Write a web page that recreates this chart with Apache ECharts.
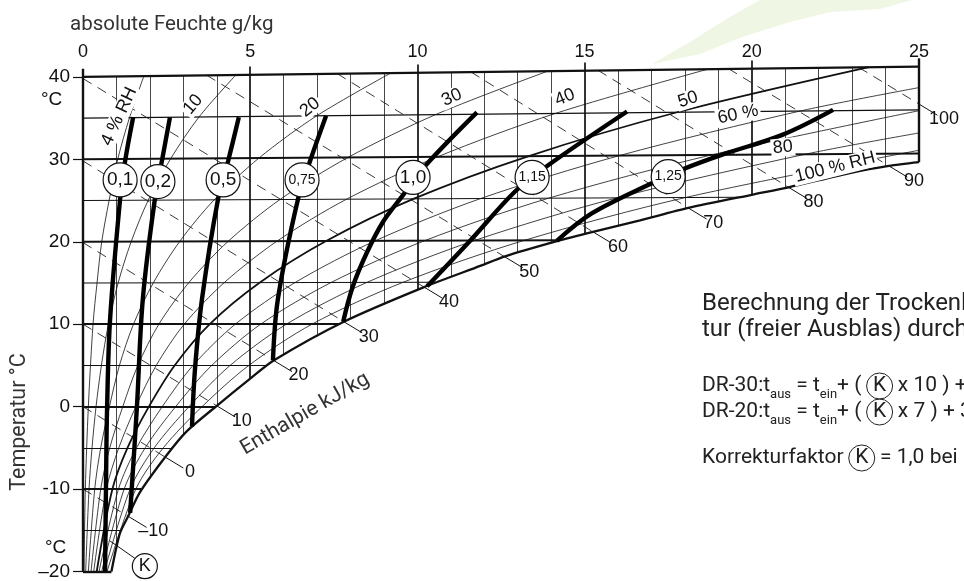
<!DOCTYPE html>
<html><head><meta charset="utf-8">
<script src="https://cdn.jsdelivr.net/npm/echarts@6/dist/echarts.min.js"></script>
<style>html,body{margin:0;padding:0;background:#fff;overflow:hidden}#c{width:964px;height:581px}</style>
</head><body><div id="c"></div>
<script>
// ---------------- data ----------------
const xTickValues = [0, 5, 10, 15, 20, 25];           // absolute Feuchte g/kg
const yTickValues = [-20, -10, 0, 10, 20, 30, 40];     // Temperatur °C
const yTickText = ['–20', '-10', '0', '10', '20', '30', '40'];

// saturation curve (100 % RH): [g/kg, °C]
const saturation = [[0.85,-20],[1.1,-15.4],[1.35,-13.3],[1.7,-10.4],[2.5,-5.9],[3.1,-3.0],[4.0,0.1],[5.0,3.4],[5.7,5.6],[7.8,10.3],[10.2,14.5],[11.9,17.1],[12.6,18.2],[14.2,20.1],[15.25,21.2],[16.66,22.6],[18.1,24.1],[20.0,25.7],[21.1,26.6],[23.0,28.4],[24.1,29.2],[25,29.65]];

// isotherms (°C) and their rise in °C over 25 g/kg
const isotherms    = [-20,-15,-10,-5,0,5,10,15,20,25,30,35,40];
const isothermRise = [0,0,0,0,0,0.05,0.1,0.2,0.3,0.5,0.7,1.0,1.25];

// enthalpy lines kJ/kg: start and end (on saturation / border)
const enthalpy = [-10,0,10,20,30,40,50,60,70,80,90,100];
const enthalpyStart = [[0,-10],[0,0],[0,10],[0,19.9],[0,29.8],[0,39.8],[3.7,40.2],[7.6,40.4],[11.6,40.6],[15.4,40.8],[19.3,41.0],[23.2,41.15]];
const enthalpyEnd   = [[1.35,-13.3],[2.45,-6.1],[4.0,0.1],[5.7,5.6],[7.8,10.3],[10.2,14.5],[12.6,18.2],[15.25,21.2],[18.1,24.1],[21.1,26.6],[24.1,29.2],[25,36.7]];

// relative humidity curves
const rh04 = [[0.03,-20],[0.07,-10],[0.16,0],[0.30,10],[0.42,15],[0.56,20],[0.78,25],[1.04,30.03],[1.39,35.05],[1.82,40.09]];
const rh10 = [[0.08,-20],[0.18,-10],[0.27,-5],[0.39,0],[0.55,5],[0.76,10],[1.05,15],[1.44,20],[1.95,25.04],[2.62,30.07],[3.47,35.14],[4.57,40.23]];
const rh20 = [[0.16,-20],[0.35,-10],[0.53,-5],[0.79,0],[1.09,5],[1.51,10],[2.10,15],[2.89,20.03],[3.92,25.08],[5.26,30.15],[6.99,35.28],[9.20,40.46]];
const rh30 = [[0.24,-20],[0.53,-10],[0.80,-5],[1.19,0],[1.64,5],[2.27,10.01],[3.16,15.02],[4.34,20.05],[5.89,25.12],[7.92,30.22],[10.54,35.42],[13.90,40.70]];
const rh40 = [[0.32,-20],[0.70,-10],[1.07,-5],[1.58,0],[2.19,5],[3.03,10.01],[4.22,15.03],[5.80,20.07],[7.88,25.16],[10.60,30.30],[14.13,35.57],[18.68,40.93]];
const rh50 = [[0.41,-20],[0.88,-10],[1.33,-5],[1.97,0],[2.74,5],[3.79,10.02],[5.28,15.04],[7.27,20.09],[9.88,25.20],[13.31,30.37],[17.77,35.71],[23.50,41.18]];
const rh60 = [[0.48,-20],[1.06,-10],[1.60,-5],[2.37,0],[3.29,5],[4.56,10.02],[6.34,15.05],[8.73,20.1],[11.89,25.24],[16.04,30.45],[21.45,35.86],[25,38.7]];
const rh70 = [[0.56,-20],[1.23,-10],[1.86,-5],[2.77,0],[3.85,5],[5.32,10.02],[7.42,15.06],[10.21,20.12],[13.92,25.28],[18.79,30.53],[25,35.9]];
const rh80 = [[0.64,-20],[1.41,-10],[2.13,-5],[3.17,0],[4.40,5],[6.09,10.02],[8.49,15.07],[11.70,20.14],[15.96,25.32],[21.58,30.60],[25,33.2]];
const rh90 = [[0.72,-20],[1.58,-10],[2.40,-5],[3.56,0],[4.96,5],[6.86,10.03],[9.57,15.08],[13.19,20.16],[18.01,25.36],[25,31.1]];
const rhCurves = [rh04, rh10, rh20, rh30, rh40, rh50, rh60, rh70, rh80, rh90];
const rhNames  = ['4 %','10 %','20 %','30 %','40 %','50 %','60 %','70 %','80 %','90 %'];
const rhLabelText = ['4 % RH','10','20','30','40','50','60 %','80','100 % RH'];

// correction factor K curves
const kLabels = ['0,1','0,2','0,5','0,75','1,0','1,15','1,25'];
const k01  = [[1.50,35.1],[1.26,29.8],[1.11,25.2],[0.81,10.6],[0.72,-0.2],[0.69,-8.7],[0.66,-20]];
const k02  = [[2.60,35.1],[2.36,29.8],[2.15,25.2],[1.79,13.1],[1.61,-0.2],[1.41,-12.9]];
const k05  = [[4.66,35.1],[4.34,29.8],[4.04,25.2],[3.56,13.1],[3.35,4.6],[3.26,-2.4]];
const k075 = [[7.27,35.3],[6.79,29.8],[6.43,25.2],[5.83,13.1],[5.68,5.6]];
const k10  = [[11.78,35.7],[10.23,29.2],[9.54,25.5],[8.97,22.4],[8.49,18.7],[8.07,14.6],[7.78,10.3]];
const k115 = [[16.27,35.8],[13.88,29.2],[12.92,26.1],[11.57,20.1],[10.29,14.6]];
const k125 = [[22.43,36.0],[20.93,33.0],[19.14,30.6],[17.94,28.8],[16.96,27.0],[15.2,23.4],[14.17,20.1]];
const kCurves = [k01, k02, k05, k075, k10, k115, k125];

// ---------------- layout (positions / styles) ----------------
const kCirclePos = [[1.11,27.5],[2.24,27.3],[4.19,27.5],[6.55,27.5],[9.87,27.8],[13.43,27.8],[17.5,27.9]];
const rhLabelPos = [[1.08,35.2],[3.29,36.65],[6.79,36.3],[11.03,37.5],[14.41,37.5],[18.09,37.25],[19.59,35.44],[20.93,31.45],[22.49,29.03]];
const rhLabelRot = [65,50,38,25,22,18,12,5,14];
const tickExt = 1.0;
const INK = '#111';
const CLEAR = 'rgba(0,0,0,0)';

// ---------------- helpers ----------------
const topRise = isothermRise[isothermRise.length-1];
const topY = x => 40 + topRise * x / 25;
function satYAt(x){
  for (let i=0;i<saturation.length-1;i++){
    const a=saturation[i], b=saturation[i+1];
    if (x>=a[0] && x<=b[0]) return a[1]+(b[1]-a[1])*(x-a[0])/(b[0]-a[0]);
  }
  return x<saturation[0][0]?saturation[0][1]:saturation[saturation.length-1][1];
}
function isoEnd(T, rise){
  const f = x => T + rise*x/25;
  for (let i=0;i<saturation.length-1;i++){
    const a=saturation[i], b=saturation[i+1];
    const d0=a[1]-f(a[0]), d1=b[1]-f(b[0]);
    if (d0<=0 && d1>=0){ const t = d1===d0?0:-d0/(d1-d0); return a[0]+t*(b[0]-a[0]); }
  }
  return 25;
}
function segs(name, list, style, z){
  return {type:'lines', name, coordinateSystem:'cartesian2d', polyline:false, clip:false, silent:true, z,
          data: list.map(c=>({coords:c})), lineStyle: Object.assign({opacity:1, curveness:0}, style)};
}

const series = [];
// vertical grid lines
const vThin=[], vThick=[];
for (let gx=1; gx<=24; gx++){
  const major = gx%5===0;
  (major?vThick:vThin).push([[gx, satYAt(gx)], [gx, topY(gx)+(major?tickExt:0)]]);
}
series.push(segs('gridV', vThin, {color:'#333', width:0.9}, 1));
series.push(segs('gridV5', vThick, {color:INK, width:1.7}, 1));
// isotherms
const isoThin=[], isoThick=[];
isotherms.forEach((T,i)=>{
  if (T===-20 || T===40) return;
  const r=isothermRise[i], xe=isoEnd(T,r);
  (T%10===0?isoThick:isoThin).push([[0,T],[xe,T+r*xe/25]]);
});
series.push(segs('iso', isoThin, {color:INK, width:1.1}, 2));
series.push(segs('iso10', isoThick, {color:INK, width:2}, 2));
// borders
series.push(segs('border', [
  [[0,-20],[0,40+tickExt]],
  [[25,satYAt(25)],[25,topY(25)+tickExt]],
  [[0,40],[25,topY(25)]],
  [[0,-20],[saturation[0][0],-20]]
], {color:INK, width:2.4}, 4));
// enthalpy lines
series.push(segs('enthalpy', enthalpy.map((h,i)=>[enthalpyStart[i], enthalpyEnd[i]]),
  {color:'#222', width:0.9, type:[10,7]}, 3));
const tickEnds = enthalpyEnd.map(e=>[e[0]+0.55, e[1]-1.35]);
series.push(segs('enthalpyTick', enthalpyEnd.map((e,i)=>[e, tickEnds[i]]), {color:INK, width:1}, 3));
series.push({type:'scatter', name:'enthalpyLabel', silent:true, z:8, symbolSize:1, itemStyle:{color:CLEAR, opacity:1}, clip:false,
  data: enthalpy.map((h,i)=>({name: h<0?'–'+Math.abs(h):String(h), value: enthalpyEnd[i]})),
  label:{show:true, position:'inside', offset:[25,15], formatter:p=>p.name, color:INK, fontSize:18, fontFamily:'Liberation Sans'}});
// relative humidity curves
rhCurves.forEach((c,i)=>{
  series.push({type:'line', name:'RH '+rhNames[i], data:c, smooth:0.3, symbol:'none', silent:true, z:3, clip:false,
    lineStyle:{color:INK, width: rhNames[i]==='50 %'?1.8:0.8}});
});
// saturation curve
series.push({type:'line', name:'100 % RH', data:saturation, smooth:0.25, symbol:'none', silent:true, z:4, clip:false,
  lineStyle:{color:INK, width:2.3}});
// K curves
kCurves.forEach((c,i)=>{
  series.push({type:'line', name:'K '+kLabels[i], data:c, smooth:0.35, symbol:'none', silent:true, z:5, clip:false,
    lineStyle:{color:'#000', width:4.4}});
});
series.push({type:'scatter', name:'K circles', silent:true, z:6, symbol:'circle', symbolSize:34,
  itemStyle:{color:'#fff', opacity:1, borderColor:INK, borderWidth:1.2},
  data: kLabels.map((t,i)=>({name:t, value:kCirclePos[i]})),
  label:{show:true, position:'inside', color:INK, fontFamily:'Liberation Sans', fontSize:19,
    formatter: p => p.name.length>3 ? '{s|'+p.name+'}' : p.name,
    rich:{s:{fontSize:14, color:INK, fontFamily:'Liberation Sans'}}}});
// RH labels
series.push({type:'scatter', name:'RH labels', silent:true, z:7, symbolSize:1, itemStyle:{color:CLEAR, opacity:1}, clip:false,
  data: rhLabelText.map((t,i)=>({name:t, value:rhLabelPos[i], label:{rotate:rhLabelRot[i]}})),
  label:{show:true, position:'inside', formatter:p=>p.name, color:INK, fontSize:18, fontFamily:'Liberation Sans',
    backgroundColor:'#fff', padding:[0,2]}});
// K annotation at bottom
series.push(segs('K leader', [[[0.81,-16.3],[1.55,-18.4]]], {color:INK, width:1}, 6));
series.push({type:'scatter', name:'K note', silent:true, z:7, symbol:'circle', symbolSize:25, clip:false,
  itemStyle:{color:'#fff', opacity:1, borderColor:INK, borderWidth:1.2},
  data:[{name:'K', value:[1.85,-19.35]}],
  label:{show:true, position:'inside', formatter:'K', color:INK, fontSize:18, fontFamily:'Liberation Sans'}});

const kTok = {fontSize:21, width:26, height:26, lineHeight:26, align:'center', borderColor:'#222', borderWidth:1, borderRadius:13, fill:'#222', fontFamily:'Roboto'};
const subTok = {fontSize:13, lineHeight:13, verticalAlign:'bottom', fill:'#222', fontFamily:'Roboto'};
const option = {
  animation:false,
  backgroundColor:'#fff',
  textStyle:{fontFamily:'Liberation Sans'},
  grid:{left:83, right:45, top:60.4, bottom:8, containLabel:false},
  xAxis:{type:'value', position:'top', min:0, max:25, interval:5,
    axisLine:{show:false}, axisTick:{show:false}, splitLine:{show:false},
    axisLabel:{show:true, margin:-1, fontSize:18, color:INK, customValues:xTickValues}},
  yAxis:{type:'value', min:-20, max:42, interval:10,
    axisLine:{show:false}, splitLine:{show:false},
    axisTick:{show:true, length:10, inside:false, lineStyle:{color:INK, width:1.2}, customValues:yTickValues},
    axisLabel:{show:true, margin:13, fontSize:19, color:INK, customValues:yTickValues,
      formatter:v=>{const i=yTickValues.indexOf(v); return i<0?'':yTickText[i];}}},
  series,
  graphic:[
    {type:'polygon', z:-10, silent:true, shape:{points:[[652,64],[690,42],[728,18],[760,0],[912,0],[880,9],[830,12],[790,22],[742,37],[700,54]]},
      style:{fill:'#f0f6e4'}},
    {type:'text', x:70, y:25, silent:true, style:{text:'absolute Feuchte g/kg', fontSize:20.5, fill:'#333', fontFamily:'Roboto', verticalAlign:'middle'}},
    {type:'text', x:41, y:100, silent:true, style:{text:'°C', fontSize:19, fill:INK, fontFamily:'Liberation Sans', verticalAlign:'middle'}},
    {type:'text', x:45, y:548, silent:true, style:{text:'°C', fontSize:19, fill:INK, fontFamily:'Liberation Sans', verticalAlign:'middle'}},
    {type:'text', x:20, y:422, rotation:Math.PI/2, silent:true, style:{text:'Temperatur °C', fontSize:21.5, fill:'#333', fontFamily:'Roboto', align:'center', verticalAlign:'middle'}},
    {type:'text', x:305, y:414, rotation:30*Math.PI/180, silent:true, style:{text:'Enthalpie kJ/kg', fontSize:21, fill:'#333', fontFamily:'Roboto', align:'center', verticalAlign:'middle'}},
    {type:'text', x:702, y:304, silent:true, style:{text:'Berechnung der Trockenlufttempera-', fontSize:24, fill:'#222', fontFamily:'Roboto', verticalAlign:'middle'}},
    {type:'text', x:702, y:330, silent:true, style:{text:'tur (freier Ausblas) durch den Trockner', fontSize:24, fill:'#222', fontFamily:'Roboto', verticalAlign:'middle'}},
    {type:'text', x:702, y:386, silent:true, style:{text:'DR-30:t{s|aus} = t{s|ein}+ ( {k|K} x 10 ) + 3 °C', fontSize:21, fill:'#222', fontFamily:'Roboto', verticalAlign:'middle', lineHeight:30,
      rich:{s:subTok, k:kTok}}},
    {type:'text', x:702, y:412, silent:true, style:{text:'DR-20:t{s|aus} = t{s|ein}+ ( {k|K} x 7 ) + 3 °C', fontSize:21, fill:'#222', fontFamily:'Roboto', verticalAlign:'middle', lineHeight:30,
      rich:{s:subTok, k:kTok}}},
    {type:'text', x:702, y:458, silent:true, style:{text:'Korrekturfaktor {k|K} = 1,0 bei 20 °C', fontSize:21, fill:'#222', fontFamily:'Roboto', verticalAlign:'middle', lineHeight:30,
      rich:{k:kTok}}}
  ]
};
const chart = echarts.init(document.getElementById('c'), null, {renderer:'canvas', width:964, height:581});
chart.setOption(option);
</script></body></html>
